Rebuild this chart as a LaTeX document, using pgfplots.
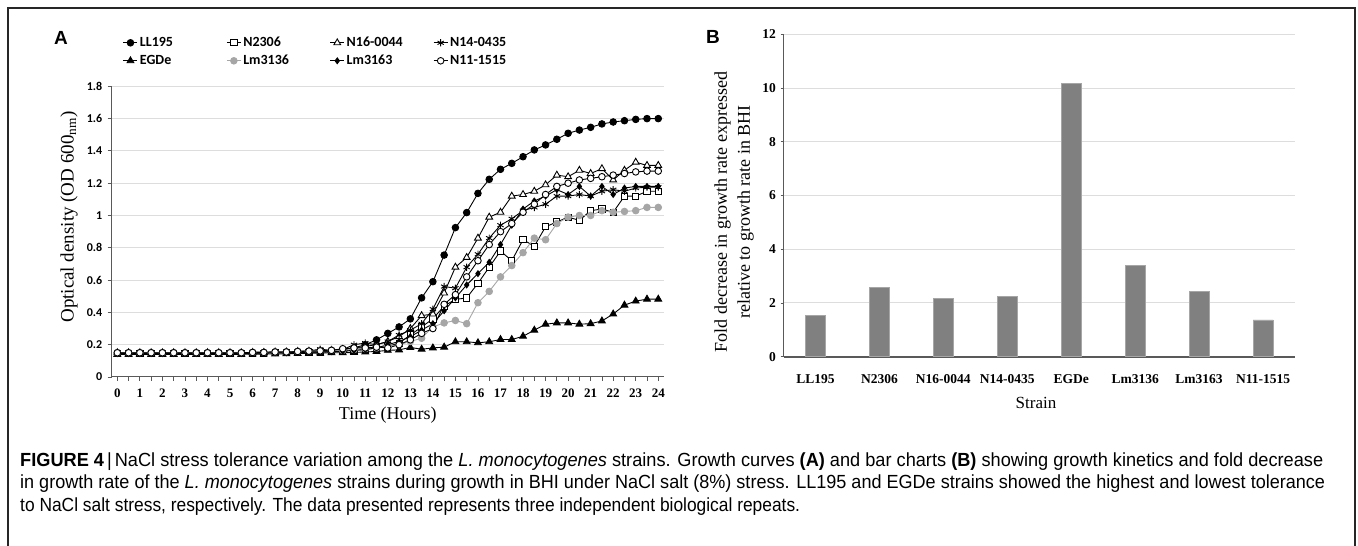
\documentclass[border=0pt]{standalone}
\usepackage{fontspec}
\usepackage{pgfplots}
\pgfplotsset{compat=1.18}
\usepackage{pgfplotstable}
\usepackage{graphicx}
\setmainfont{Liberation Serif}
\newfontfamily\carl{Carlito}
\newfontfamily\lsans{Liberation Sans}
\definecolor{axgray}{HTML}{595959}
\definecolor{gridgray}{HTML}{DDDDDD}
\definecolor{bargray}{HTML}{808080}
\definecolor{lmgray}{HTML}{A6A6A6}

\pgfplotstableread{
t    LL    N2306 N16   N14   EGDe  Lm3136 Lm3163 N11
0    0.150 0.145 0.150 0.150 0.140 0.150 0.145 0.150
0.5  0.150 0.145 0.150 0.150 0.140 0.150 0.145 0.150
1    0.150 0.145 0.150 0.150 0.140 0.150 0.145 0.150
1.5  0.150 0.145 0.150 0.150 0.140 0.150 0.145 0.150
2    0.150 0.145 0.150 0.150 0.140 0.150 0.145 0.150
2.5  0.150 0.145 0.150 0.150 0.140 0.150 0.145 0.150
3    0.150 0.145 0.150 0.150 0.140 0.150 0.145 0.150
3.5  0.150 0.145 0.150 0.150 0.140 0.150 0.145 0.150
4    0.150 0.145 0.150 0.150 0.140 0.150 0.145 0.150
4.5  0.150 0.145 0.150 0.150 0.140 0.150 0.145 0.150
5    0.150 0.145 0.150 0.150 0.140 0.150 0.145 0.150
5.5  0.150 0.145 0.150 0.150 0.140 0.150 0.145 0.150
6    0.152 0.147 0.152 0.152 0.142 0.152 0.147 0.152
6.5  0.152 0.147 0.152 0.152 0.142 0.152 0.147 0.152
7    0.155 0.150 0.155 0.155 0.143 0.155 0.150 0.155
7.5  0.155 0.150 0.155 0.155 0.144 0.155 0.150 0.155
8    0.158 0.152 0.158 0.158 0.145 0.158 0.152 0.158
8.5  0.160 0.153 0.160 0.162 0.147 0.160 0.153 0.160
9    0.162 0.155 0.162 0.172 0.148 0.162 0.155 0.162
9.5  0.165 0.157 0.165 0.165 0.150 0.165 0.157 0.165
10   0.170 0.160 0.170 0.170 0.150 0.165 0.160 0.175
10.5 0.180 0.165 0.180 0.200 0.152 0.170 0.165 0.180
11   0.200 0.170 0.190 0.210 0.155 0.175 0.170 0.180
11.5 0.230 0.180 0.200 0.200 0.158 0.180 0.180 0.185
12   0.270 0.190 0.220 0.220 0.165 0.190 0.200 0.180
12.5 0.310 0.210 0.250 0.260 0.168 0.200 0.220 0.200
13   0.360 0.260 0.300 0.290 0.183 0.220 0.250 0.230
13.5 0.490 0.310 0.380 0.330 0.172 0.240 0.290 0.270
14   0.590 0.360 0.390 0.420 0.180 0.310 0.330 0.300
14.5 0.755 0.440 0.520 0.560 0.185 0.335 0.410 0.450
15   0.925 0.480 0.680 0.550 0.218 0.350 0.490 0.510
15.5 1.018 0.490 0.740 0.680 0.218 0.330 0.570 0.620
16   1.137 0.580 0.860 0.760 0.212 0.460 0.640 0.720
16.5 1.224 0.680 0.990 0.860 0.218 0.530 0.710 0.820
17   1.286 0.780 1.020 0.940 0.232 0.620 0.820 0.900
17.5 1.323 0.720 1.120 0.980 0.232 0.690 0.940 0.950
18   1.364 0.850 1.130 1.030 0.252 0.770 1.040 1.020
18.5 1.406 0.810 1.150 1.050 0.290 0.860 1.090 1.070
19   1.437 0.930 1.190 1.070 0.327 0.850 1.120 1.130
19.5 1.472 0.960 1.250 1.120 0.335 0.950 1.160 1.180
20   1.509 0.990 1.240 1.120 0.335 0.990 1.130 1.200
20.5 1.529 0.970 1.280 1.130 0.327 1.000 1.180 1.220
21   1.546 1.030 1.260 1.120 0.330 1.000 1.120 1.230
21.5 1.567 1.040 1.290 1.150 0.347 1.030 1.180 1.240
22   1.579 1.020 1.220 1.160 0.390 1.020 1.130 1.250
22.5 1.587 1.120 1.280 1.150 0.445 1.025 1.170 1.260
23   1.595 1.120 1.330 1.170 0.470 1.030 1.180 1.270
23.5 1.600 1.150 1.310 1.175 0.482 1.050 1.180 1.275
24   1.600 1.150 1.310 1.175 0.482 1.050 1.180 1.275
}\growth

\pgfplotstableread{
x v
0 1.55
1 2.58
2 2.17
3 2.23
4 10.16
5 3.41
6 2.42
7 1.37
}\fold

\newsavebox\capA
\newsavebox\capB
\newsavebox\capC
\newcommand\capsel{\lsans\fontsize{19}{19}\selectfont}

\begin{document}
\sbox\capA{\capsel\textbf{FIGURE 4}\,|\,NaCl stress tolerance variation among the \textit{L. monocytogenes} strains. Growth curves \textbf{(A)} and bar charts \textbf{(B)} showing growth kinetics and fold decrease}%
\sbox\capB{\capsel in growth rate of the \textit{L. monocytogenes} strains during growth in BHI under NaCl salt (8\%) stress. LL195 and EGDe strains showed the highest and lowest tolerance}%
\sbox\capC{\capsel to NaCl salt stress, respectively. The data presented represents three independent biological repeats.}%
\pgfmathsetmacro\capratioA{1303/\wd\capA}%
\pgfmathsetmacro\capratioB{1305/\wd\capB}%
\pgfmathsetmacro\capratioC{780/\wd\capC}%
\begin{tikzpicture}
\path[use as bounding box] (0pt,0pt) rectangle (1358pt,546pt);
\draw[line width=1.3pt, black!85] (8pt,0pt) -- (8pt,538pt) -- (1355pt,538pt) -- (1355pt,0pt);

\node[font=\lsans\bfseries\fontsize{19}{19}\selectfont] at (61pt,508pt) {A};
\node[font=\lsans\bfseries\fontsize{19}{19}\selectfont] at (713pt,509pt) {B};

\begin{axis}[
  at={(111.7pt,169pt)}, anchor=south west, scale only axis,
  width=552.2pt, height=290.7pt,
  xmin=-0.25, xmax=24.25, ymin=0, ymax=1.8,
  axis x line*=bottom, axis y line*=left,
  axis line style={axgray, line width=1pt},
  xtick={0,1,...,24}, minor xtick={0.5,1.5,...,23.5},
  ytick={0,0.2,0.4,0.6,0.8,1,1.2,1.4,1.6,1.8},
  yticklabels={0,0.2,0.4,0.6,0.8,1,1.2,1.4,1.6,1.8},
  /pgf/number format/assume math mode=true,
  xticklabel style={font=\bfseries\fontsize{13}{13}\selectfont, yshift=-4pt},
  yticklabel style={font=\carl\bfseries\fontsize{12}{12}\selectfont, xshift=-2pt},
  tick align=outside, major tick length=4pt, minor tick length=4pt,
  tick style={axgray, line width=0.8pt},
  ymajorgrids, grid style={gridgray, line width=1pt},
  xlabel={Time (Hours)},
  xlabel style={font=\fontsize{18}{18}\selectfont, at={(axis description cs:0.5,-0.131)}, anchor=center},
  ylabel={Optical density (OD 600\textsubscript{nm})},
  ylabel style={font=\fontsize{19}{19}\selectfont, at={(axis description cs:-0.0774,0.55)}, anchor=center},
  clip=false,
  legend columns=4,
  legend cell align=left,
  legend image code/.code={\draw[mark repeat=2,mark phase=2,#1] plot coordinates {(0pt,0pt) (7pt,0pt) (14pt,0pt)};},
  legend style={at={(axis description cs:0.0205,1.172)}, anchor=north west, draw=none, fill=none,
    inner sep=0pt, outer sep=0pt, row sep=5pt,
    font=\carl\bfseries\fontsize{14}{14}\selectfont,
    nodes={text width=84.5pt, align=left, inner xsep=2pt, inner ysep=1pt, text height=9pt, text depth=2pt}},
]
\addplot[black, line width=0.9pt, mark=*, mark size=3.3pt, mark options={fill=black}] table[x=t,y=LL]{\growth};
\addlegendentry{LL195}
\addplot[black, line width=0.9pt, mark=square*, mark size=3.1pt, mark options={fill=white}] table[x=t,y=N2306]{\growth};
\addlegendentry{N2306}
\addplot[black, line width=0.9pt, mark=triangle*, mark size=3.9pt, mark options={fill=white}] table[x=t,y=N16]{\growth};
\addlegendentry{N16-0044}
\addplot[black, line width=0.9pt, mark=asterisk, mark size=3.6pt] table[x=t,y=N14]{\growth};
\addlegendentry{N14-0435}
\addplot[black, line width=0.9pt, mark=triangle*, mark size=3.9pt, mark options={fill=black}] table[x=t,y=EGDe]{\growth};
\addlegendentry{EGDe}
\addplot[lmgray, line width=0.9pt, mark=*, mark size=3.3pt, mark options={fill=lmgray}] table[x=t,y=Lm3136]{\growth};
\addlegendentry{Lm3136}
\addplot[black, line width=0.9pt, mark=diamond*, mark size=2.9pt, mark options={fill=black}] table[x=t,y=Lm3163]{\growth};
\addlegendentry{Lm3163}
\addplot[black, line width=0.9pt, mark=*, mark size=3.3pt, mark options={fill=white}] table[x=t,y=N11]{\growth};
\addlegendentry{N11-1515}
\end{axis}

\begin{axis}[
  at={(783.5pt,189.3pt)}, anchor=south west, scale only axis,
  width=511.5pt, height=322.4pt,
  xmin=-0.5, xmax=7.5, ymin=0, ymax=12,
  axis x line*=bottom, axis y line*=left,
  x axis line style={axgray, line width=1.8pt},
  y axis line style={axgray, line width=1.2pt},
  xtick={0,...,7},
  xticklabels={LL195,N2306,N16-0044,N14-0435,EGDe,Lm3136,Lm3163,N11-1515},
  x tick style={draw=none},
  ytick={0,2,...,12}, yticklabels={0,2,4,6,8,10,12},
  tick align=outside, major tick length=3pt,
  y tick style={axgray, line width=0.8pt},
  ymajorgrids, grid style={gridgray, line width=1pt},
  xticklabel style={font=\bfseries\fontsize{13.5}{13.5}\selectfont, yshift=-11pt},
  yticklabel style={font=\bfseries\fontsize{13.5}{13.5}\selectfont, xshift=-1pt},
  xlabel={Strain},
  xlabel style={font=\fontsize{17}{17}\selectfont, at={(axis description cs:0.4937,-0.1436)}, anchor=center},
  ylabel={Fold decrease in growth rate expressed\\relative to growth rate in BHI},
  ylabel style={font=\fontsize{18}{23}\selectfont, align=center, at={(axis description cs:-0.0968,0.449)}, anchor=center},
]
\addplot[ybar, bar width=20pt, fill=bargray, draw=black!35, line width=0.6pt] table[x=x,y=v]{\fold};
\end{axis}

\node[anchor=base west, inner sep=0pt] at (20pt,79pt) {\scalebox{\capratioA}[1]{\usebox\capA}};
\node[anchor=base west, inner sep=0pt] at (20pt,57pt) {\scalebox{\capratioB}[1]{\usebox\capB}};
\node[anchor=base west, inner sep=0pt] at (20pt,34pt) {\scalebox{\capratioC}[1]{\usebox\capC}};
\end{tikzpicture}
\end{document}
